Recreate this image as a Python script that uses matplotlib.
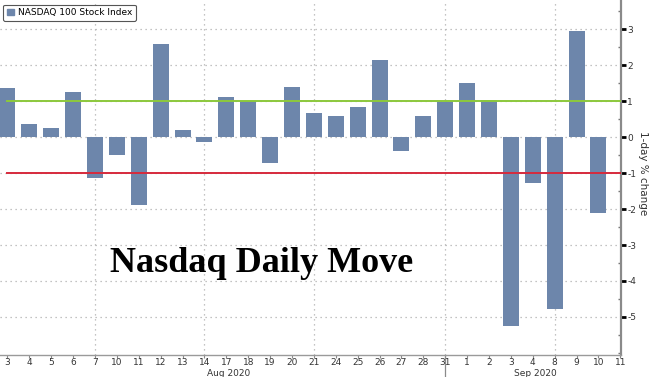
import numpy as np
import matplotlib
matplotlib.use("Agg")
from matplotlib import pyplot as plt
from matplotlib import transforms
from matplotlib.patches import Patch
from matplotlib.ticker import MultipleLocator

# trading days, Aug 3 - Sep 10 2020 (last tick is Sep 11, no bar)
day_labels = ["3", "4", "5", "6", "7", "10", "11", "12", "13", "14",
              "17", "18", "19", "20", "21", "24", "25", "26", "27", "28",
              "31", "1", "2", "3", "4", "8", "9", "10", "11"]
pct_change = [1.38, 0.37, 0.26, 1.27, -1.14, -0.49, -1.89, 2.60, 0.19, -0.12,
              1.11, 1.00, -0.71, 1.40, 0.68, 0.60, 0.83, 2.14, -0.39, 0.58,
              0.97, 1.52, 1.04, -5.24, -1.27, -4.78, 2.97, -2.11]
grid_days = [4, 9, 14, 20, 25]        # Aug 7, 14, 21, 31, Sep 8
month_labels = ["Aug 2020", "Sep 2020"]
month_pos = [10.1, 24.1]
month_split = 20                      # Aug 31

bar_color = "#6d86ab"
fontsize = 6.5

fig = plt.figure(figsize=(6.5, 3.77), dpi=100)
ax = fig.add_axes([0.0, 0.0584, 0.9554, 0.9416])

x = np.arange(len(pct_change))
ax.bar(x, pct_change, width=0.73, color=bar_color, zorder=2)

ax.set_xlim(-0.34, 28.03)
ax.set_ylim(-6.06, 3.82)

# dotted grid
for gy in range(-5, 4):
    ax.axhline(gy, color="#b0b0b0", linestyle=(0, (1, 3)), linewidth=0.9, zorder=1)
for gx in grid_days:
    ax.axvline(gx, color="#b0b0b0", linestyle=(0, (1, 3)), linewidth=0.9, zorder=1)

# +/- 1% reference lines
ax.plot([0, 28.03], [1, 1], color="#8cc83c", linewidth=1.4, zorder=3)
ax.plot([0, 28.03], [-1, -1], color="#d62a3c", linewidth=1.4, zorder=3)

for side in ("top", "left"):
    ax.spines[side].set_visible(False)
ax.spines["right"].set_color("#8a8a8a")
ax.spines["right"].set_linewidth(1.6)
ax.spines["bottom"].set_color("#9a9a9a")
ax.spines["bottom"].set_linestyle((0, (2, 1)))
ax.spines["bottom"].set_linewidth(1.0)

ax.yaxis.tick_right()
ax.set_yticks(range(-5, 4))
ax.set_yticklabels([str(v) for v in range(-5, 4)])
ax.yaxis.set_minor_locator(MultipleLocator(0.5))
ax.tick_params(axis="y", which="major", direction="out", length=3.5, width=2,
               color="black", labelsize=6.5, pad=1, labelcolor="#333333")
ax.tick_params(axis="y", which="minor", direction="in", length=2, width=1,
               color="#777777")

fig.text(643 / 650, 1 - 173 / 377, "1-day % change", rotation=270,
         ha="center", va="center", fontsize=7.5, color="#333333")

ax.set_xticks(range(len(day_labels)))
ax.set_xticklabels(day_labels)
ax.tick_params(axis="x", direction="out", length=2, width=0.8, color="#888888",
               labelsize=fontsize, pad=0.5, labelcolor="#333333")

trans = transforms.blended_transform_factory(ax.transData, fig.transFigure)
for lab, pos in zip(month_labels, month_pos):
    ax.text(pos, 1 - 373 / 377, lab, transform=trans, ha="center", va="center",
            fontsize=fontsize, color="#333333")
ax.plot([month_split, month_split], [0.0, 0.0584], transform=trans,
        color="#8a8a8a", linewidth=0.9, clip_on=False)

leg = ax.legend(handles=[Patch(color=bar_color, label="NASDAQ 100 Stock Index")],
                loc="upper left", bbox_to_anchor=(-0.002, 1.0), fontsize=6.5,
                handlelength=0.8, handleheight=0.8, handletextpad=0.4,
                borderpad=0.4, fancybox=True, framealpha=1, edgecolor="#555555")
leg.get_frame().set_linewidth(0.8)

fig.text(110 / 650, 1 - 272 / 377, "Nasdaq Daily Move", family="Liberation Serif",
         fontweight="bold", fontsize=26, va="baseline", ha="left", color="black")

fig.savefig("out.png", dpi=100)
